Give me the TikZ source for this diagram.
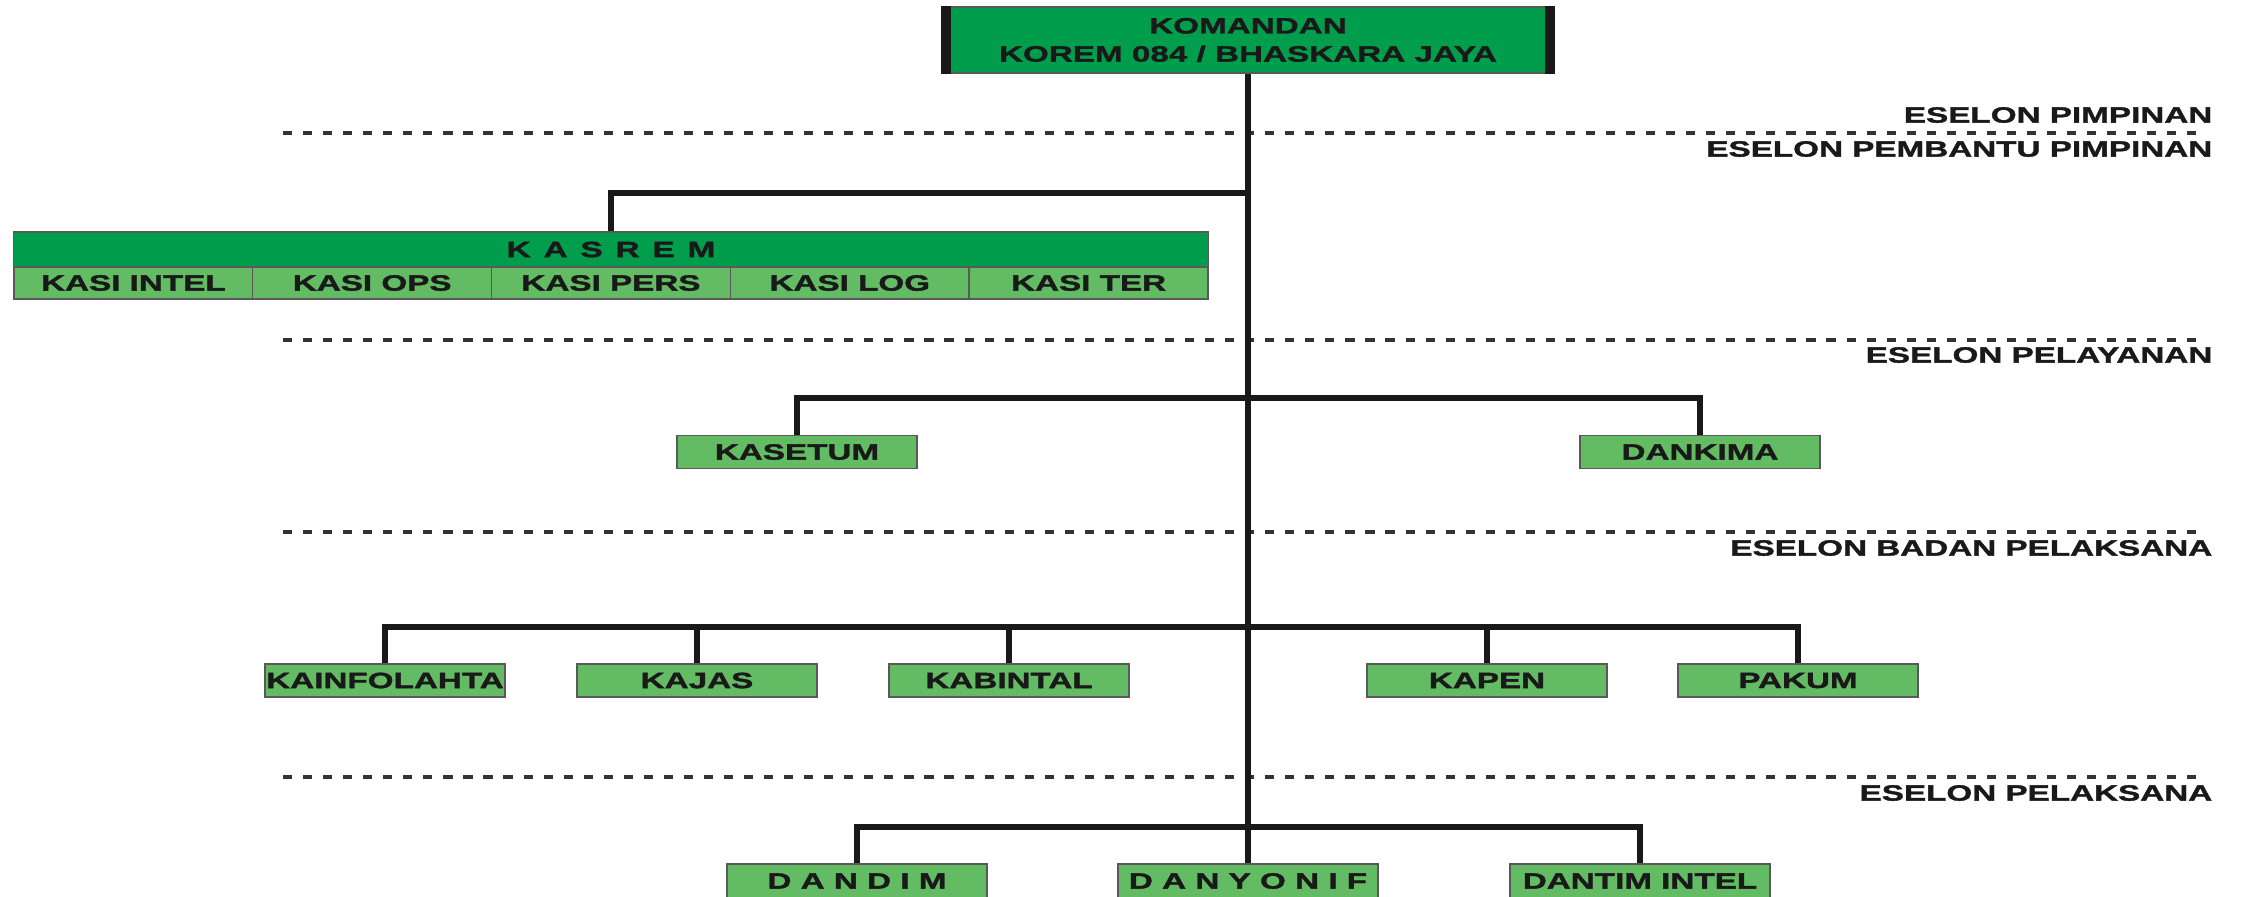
\documentclass[tikz,border=0pt]{standalone}
\usepackage{fontspec}
\newfontfamily\widefont{Liberation Sans}[FakeStretch=1.5, FakeBold=1.6]
\definecolor{korgreen}{RGB}{0,158,76}
\definecolor{unitgreen}{RGB}{99,187,99}
\tikzset{
 lbl/.style={font=\widefont\bfseries\fontsize{6.3}{8}\selectfont, text=black!90},
 unit/.style={lbl, draw=black!65, line width=0.4pt, fill=unitgreen, minimum width=2.4cm, minimum height=0.33cm, inner sep=0pt},
 head/.style={lbl, draw=black!65, line width=0.4pt, fill=korgreen, inner sep=0pt},
 link/.style={line width=1.6pt, black!90},
 divider/.style={line width=0.9pt, black!80, dash pattern=on 2.6pt off 3.1pt},
 eselon/.style={lbl, anchor=east, inner sep=0pt}
}
\begin{document}
\begin{tikzpicture}[x=0.01cm,y=-0.01cm]
 \useasboundingbox (0,0) rectangle (2244,896);
 \fill[white] (0,0) rectangle (2244,896);
 \draw [divider](283,133) -- (2205,133);
 \draw [divider](283,340) -- (2205,340);
 \draw [divider](283,532) -- (2205,532);
 \draw [divider](283,777) -- (2205,777);
 \node[eselon] (esPimpinan) at (2213,115) {ESELON PIMPINAN};
 \node[eselon] (esPembantu) at (2213,149) {ESELON PEMBANTU PIMPINAN};
 \node[eselon] (esPelayanan) at (2213,355) {ESELON PELAYANAN};
 \node[eselon] (esBadan) at (2213,548) {ESELON BADAN PELAKSANA};
 \node[eselon] (esPelaksana) at (2213,793) {ESELON PELAKSANA};
 \node[head, minimum width=6.12cm, minimum height=0.66cm, align=center] (komandan) at (1248,40) {KOMANDAN\\KOREM 084 / BHASKARA JAYA};
 \fill[black!90](komandan.north west) rectangle ([xshift=0.1cm]komandan.south west);
 \fill[black!90](komandan.north east) rectangle ([xshift=-0.1cm]komandan.south east);
 \node[head, minimum width=11.94cm, minimum height=0.35cm] (kasrem) at (611,249.5) {K\, A\, S\, R\, E\, M};
 \node[unit, minimum width=2.388cm, minimum height=0.32cm] (kasiIntel) at (133.4,283) {KASI INTEL};
 \node[unit, minimum width=2.388cm, minimum height=0.32cm] (kasiOps) at (372.2,283) {KASI OPS};
 \node[unit, minimum width=2.388cm, minimum height=0.32cm] (kasiPers) at (611,283) {KASI PERS};
 \node[unit, minimum width=2.388cm, minimum height=0.32cm] (kasiLog) at (849.8,283) {KASI LOG};
 \node[unit, minimum width=2.388cm, minimum height=0.32cm] (kasiTer) at (1088.6,283) {KASI TER};
 \node[unit] (kasetum) at (797,452) {KASETUM};
 \node[unit] (dankima) at (1700,452) {DANKIMA};
 \node[unit] (kainfolahta) at (385,680.5) {KAINFOLAHTA};
 \node[unit] (kajas) at (697,680.5) {KAJAS};
 \node[unit] (kabintal) at (1009,680.5) {KABINTAL};
 \node[unit] (kapen) at (1487,680.5) {KAPEN};
 \node[unit] (pakum) at (1798,680.5) {PAKUM};
 \node[unit, minimum width=2.6cm, minimum height=0.34cm] (dandim) at (857,881) {D A N D I M};
 \node[unit, minimum width=2.6cm, minimum height=0.34cm] (danyonif) at (1248,881) {D A N Y O N I F};
 \node[unit, minimum width=2.6cm, minimum height=0.34cm] (dantimIntel) at (1640,881) {DANTIM INTEL};
 \coordinate (brKasrem) at (1248,193);
 \coordinate (brLayan) at (1248,398);
 \coordinate (brBadan) at (1248,627);
 \coordinate (brLaksana) at (1248,827);
 \draw[link](komandan.south) -- (danyonif.north);
 \draw[link](kasrem.north) |- (brKasrem);
 \draw[link](kasetum.north) |- (brLayan) -| (dankima.north);
 \draw[link](kainfolahta.north) |- (brBadan) -| (pakum.north);
 \draw[link](kajas.north) -- (kajas.north |- brBadan);
 \draw[link](kabintal.north) -- (kabintal.north |- brBadan);
 \draw[link](kapen.north) -- (kapen.north |- brBadan);
 \draw[link](dandim.north) |- (brLaksana) -| (dantimIntel.north);
\end{tikzpicture}
\end{document}
